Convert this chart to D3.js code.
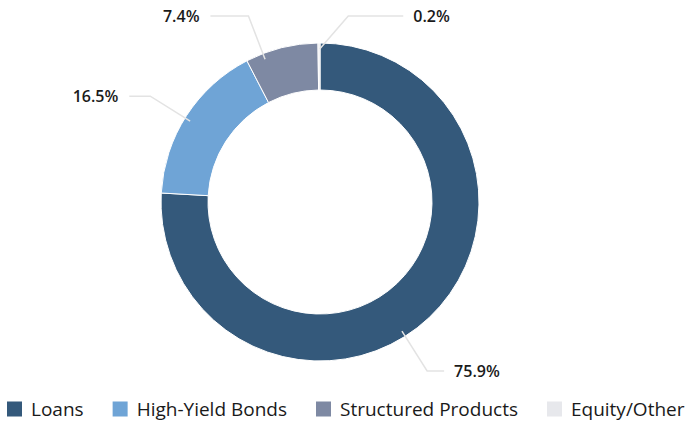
<!DOCTYPE html>
<html>
<head>
<meta charset="utf-8">
<script src="https://cdn.jsdelivr.net/npm/d3@7"></script>
<style>
  body { margin: 0; background: #fff; }
  svg { display: block; font-family: "Open Sans", "Noto Sans", sans-serif; }
</style>
</head>
<body>
<svg width="686" height="421"></svg>
<script>
const categories = ["Loans", "High-Yield Bonds", "Structured Products", "Equity/Other"],
    values = [75.9, 16.5, 7.4, 0.2],
    colors = ["#34597b", "#6fa4d6", "#7e89a3", "#e7e8ec"];

// label layout tweaks (degrees off the slice middle, length of the flat leader part)
const labelNudge = [11, -1, -7, 9],
    labelFlat = [17, 21, 38, 55];

const width = 686,
    height = 421,
    cx = 320,
    cy = 202,
    outer = 159,
    inner = 112;

const svg = d3.select("svg");

const pie = d3.pie().sort(null).value(d => d)
const arcs = pie(values)

const arc = d3.arc().innerRadius(inner).outerRadius(outer)

const g = svg.append("g").attr("transform", `translate(${cx},${cy})`)

g.selectAll("path")
  .data(arcs)
  .join("path")
  .attr("d", arc)
  .attr("fill", (d, i) => colors[i])
  .attr("stroke", "#fff")
  .attr("stroke-width", 1)

// polar helper, angle clockwise from top
const pt = (a, r) => [Math.sin(a) * r, -Math.cos(a) * r]
const rad = Math.PI / 180

arcs.forEach((d, i) => {
  const mid = (d.startAngle + d.endAngle) / 2
  let a = mid + labelNudge[i] * rad
  let elbow = pt(a, 200)
  // keep labels inside the top of the frame
  if (cy + elbow[1] < 16) {
    const r = (cy - 16) / Math.cos(a)
    elbow = pt(a, r)
  }
  // start of the leader sits on the slice itself
  const sa = Math.max(d.startAngle + 0.002, Math.min(d.endAngle - 0.002, a))
  const start = pt(sa, outer - 6)
  const right = Math.sin(a) >= 0
  const end = [elbow[0] + (right ? labelFlat[i] : -labelFlat[i]), elbow[1]]

  g.append("polyline")
    .attr("points", [start, elbow, end].map(p => p.join(",")).join(" "))
    .attr("fill", "none")
    .attr("stroke", "#e3e3e3")
    .attr("stroke-width", 1.5)

  g.append("text")
    .attr("x", end[0] + (right ? 10 : -11))
    .attr("y", end[1])
    .attr("dy", "0.35em")
    .attr("text-anchor", right ? "start" : "end")
    .attr("font-size", 16)
    .attr("font-weight", 600)
    .attr("fill", "#1a1a1a")
    .text(d3.format(".1f")(values[i]) + "%")
})

// legend
const legend = svg.append("g").attr("transform", "translate(7,409)")
let lx = 0
categories.forEach((c, i) => {
  const item = legend.append("g").attr("transform", `translate(${lx},0)`)
  item.append("rect")
    .attr("x", 0).attr("y", -7.5)
    .attr("width", 15).attr("height", 15)
    .attr("fill", colors[i])
  const t = item.append("text")
    .attr("x", 24)
    .attr("dy", "0.35em")
    .attr("font-size", 19)
    .attr("fill", "#1a1a1a")
    .text(c)
  lx += 24 + t.node().getComputedTextLength() + 29
})
</script>
</body>
</html>
